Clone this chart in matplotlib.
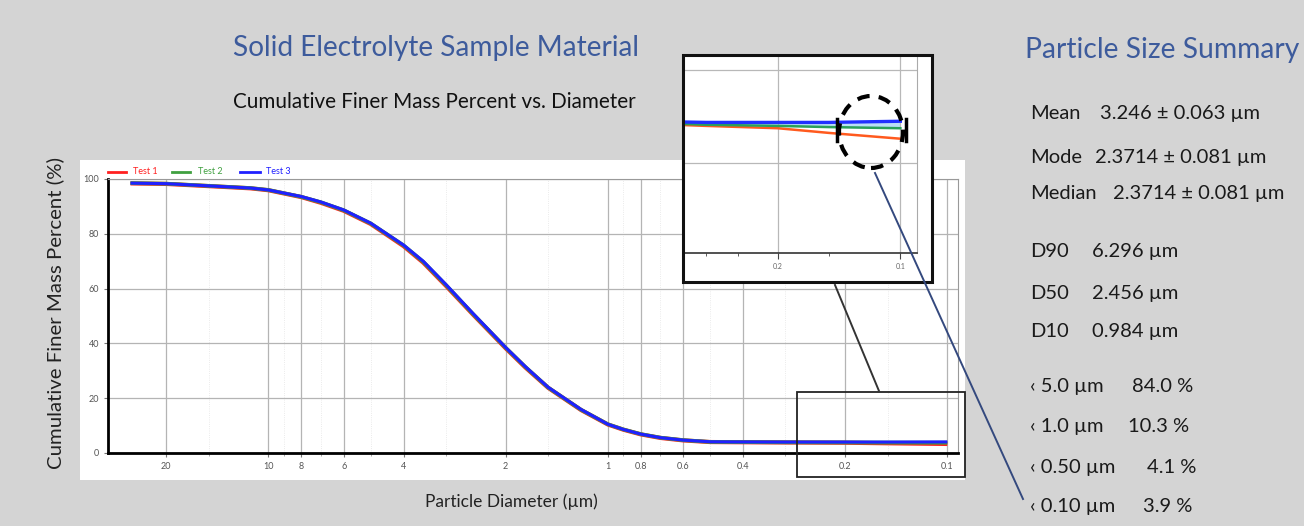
import matplotlib
matplotlib.use("Agg")
import matplotlib.pyplot as plt
from matplotlib.patches import Rectangle, Ellipse
from matplotlib.lines import Line2D
from matplotlib.ticker import FixedLocator, FixedFormatter, NullFormatter

# ---------------- data ----------------
diameter = [25.5, 20, 15, 13, 11.3, 10, 8, 7, 6, 5, 4, 3.5, 3, 2.5, 2, 1.75, 1.5, 1.3, 1.2,
            1.0, 0.9, 0.8, 0.7, 0.6, 0.5, 0.43, 0.3, 0.2, 0.15, 0.1]
test3 = [98.5, 98.3, 97.5, 97.1, 96.7, 96.0, 93.6, 91.6, 88.7, 83.9, 75.9, 70.0, 61.5, 51.0, 38.5,
         31.5, 24.0, 18.8, 15.9, 10.5, 8.6, 6.9, 5.6, 4.7, 4.1, 4.05, 4.0, 4.0, 4.0, 4.05]
test2 = [98.5, 98.3, 97.5, 97.1, 96.7, 96.0, 93.5, 91.5, 88.6, 83.8, 75.8, 69.8, 61.3, 50.8, 38.4,
         31.4, 23.9, 18.7, 15.8, 10.5, 8.6, 6.9, 5.6, 4.7, 4.05, 4.0, 3.9, 3.85, 3.8, 3.75]
test1 = [98.4, 98.2, 97.4, 97.0, 96.6, 95.9, 93.4, 91.3, 88.4, 83.6, 75.5, 69.5, 61.0, 50.6, 38.2,
         31.2, 23.8, 18.6, 15.7, 10.4, 8.5, 6.8, 5.5, 4.6, 4.0, 3.95, 3.85, 3.75, 3.55, 3.3]
series_names = ["Test 1", "Test 2", "Test 3"]
series_colors = ["#ff2020", "#40a040", "#2020ff"]

x_ticks = [20, 10, 8, 6, 4, 2, 1, 0.8, 0.6, 0.4, 0.2, 0.1]
x_tick_labels = ["20", "10", "8", "6", "4", "2", "1", "0.8", "0.6", "0.4", "0.2", "0.1"]
x_minor = [30, 15, 9, 7, 5, 3, 1.5, 0.9, 0.7, 0.5, 0.3, 0.15]
y_ticks = [0, 20, 40, 60, 80, 100]

inset_ticks = [0.2, 0.1]
inset_tick_labels = ["0.2", "0.1"]

title = "Solid Electrolyte Sample Material"
subtitle = "Cumulative Finer Mass Percent vs. Diameter"
summary_title = "Particle Size Summary"
summary_labels = ["Mean", "Mode", "Median", "D90", "D50", "D10",
                  "‹ 5.0 µm", "‹ 1.0 µm", "‹ 0.50 µm", "‹ 0.10 µm"]
summary_values = ["3.246 ± 0.063 µm", "2.3714 ± 0.081 µm", "2.3714 ± 0.081 µm",
                  "6.296 µm", "2.456 µm", "0.984 µm",
                  "84.0 %", "10.3 %", "4.1 %", "3.9 %"]
summary_y = [112, 156, 192, 250, 292, 330, 385, 425, 466, 505]
summary_value_x = [1100, 1095, 1113, 1092, 1092, 1092, 1132, 1128, 1147, 1143]

# ---------------- figure ----------------
W, H = 1304, 526
BG = "#d4d4d4"
BLUE_TXT = "#3d5b9c"
plt.rcParams["font.family"] = ["Lato", "DejaVu Sans"]

fig = plt.figure(figsize=(W / 100, H / 100), dpi=100, facecolor=BG)


def fx(x):
    return x / W


def fy(y):
    return 1 - y / H


def ax_rect(l, t, r, b):
    return [fx(l), fy(b), (r - l) / W, (b - t) / H]


# white panel behind main chart
fig.add_artist(Rectangle((fx(80), fy(480)), 885 / W, 320 / H, transform=fig.transFigure,
                         facecolor="white", edgecolor="none", zorder=-10))

ax = fig.add_axes(ax_rect(108, 179, 958, 453))
ax.set_facecolor("none")
for vals, c, lw in zip([test1, test2, test3], series_colors, [3.0, 2.7, 2.2]):
    ax.plot(diameter, vals, color=c, lw=lw, solid_capstyle="butt", solid_joinstyle="round")
ax.set_xscale("log")
ax.set_xlim(29.7, 0.093)
ax.set_ylim(0, 100)
ax.xaxis.set_major_locator(FixedLocator(x_ticks))
ax.xaxis.set_major_formatter(FixedFormatter(x_tick_labels))
ax.xaxis.set_minor_locator(FixedLocator(x_minor))
ax.xaxis.set_minor_formatter(NullFormatter())
ax.set_yticks(y_ticks)
ax.tick_params(axis="both", which="major", labelsize=6.5, labelcolor="#555555", length=3, color="#777777")
ax.tick_params(axis="x", which="minor", length=2, color="#999999")
ax.grid(True, which="major", color="#b4b4b4", lw=0.9)
ax.grid(True, which="minor", axis="x", color="#e4e4e4", lw=0.6, ls=":")
ax.spines["left"].set_color("black")
ax.spines["left"].set_linewidth(2)
ax.spines["bottom"].set_color("black")
ax.spines["bottom"].set_linewidth(2)
ax.spines["top"].set_color("#999999")
ax.spines["top"].set_linewidth(0.8)
ax.spines["right"].set_color("#999999")
ax.spines["right"].set_linewidth(0.8)

# legend (custom small, above the plot)
leg_x = [(108, 126, 133), (172, 190, 198), (240, 260, 266)]
for (x0, x1, xt), name, c in zip(leg_x, series_names, series_colors):
    fig.add_artist(Line2D([fx(x0), fx(x1)], [fy(172), fy(172)], transform=fig.transFigure,
                          color=c, lw=2, zorder=3))
    fig.text(fx(xt), fy(172), name, color=c, fontsize=6.5, va="center", ha="left")

# axis labels
fig.text(fx(55), fy(313), "Cumulative Finer Mass Percent (%)", rotation=90, fontsize=14.7,
         ha="center", va="center", color="#222222")
fig.text(fx(511), fy(502), "Particle Diameter (µm)", fontsize=12.5, ha="center", va="center",
         color="#222222")

# titles
fig.text(fx(233), fy(48), title, fontsize=20.2, color=BLUE_TXT, ha="left", va="center")
fig.text(fx(233), fy(102), subtitle, fontsize=14.9, color="#111111", ha="left", va="center")
fig.text(fx(1025), fy(50), summary_title, fontsize=20.3, color=BLUE_TXT, ha="left", va="center")
for lab, val, y, xv in zip(summary_labels, summary_values, summary_y, summary_value_x):
    fig.text(fx(1030), fy(y + 7), lab, fontsize=14.5, color="#1a1a1a", ha="left", va="baseline")
    fig.text(fx(xv), fy(y + 7), val, fontsize=14.5, color="#1a1a1a", ha="left", va="baseline")

# zoom rectangle on main plot
fig.add_artist(Rectangle((fx(797), fy(477)), 168 / W, 85 / H, transform=fig.transFigure,
                         facecolor="none", edgecolor="#222222", lw=1.3, zorder=2))

# inset box
fig.add_artist(Rectangle((fx(683), fy(282)), 249 / W, 227 / H, transform=fig.transFigure,
                         facecolor="white", edgecolor="none", zorder=4))
axi = fig.add_axes(ax_rect(684, 57, 917, 253), zorder=5)
axi.set_facecolor("white")
axi.fill_between(diameter, test2, test3, color="#8fc8f0", alpha=0.6, lw=0)
for vals, c, lw in zip([test1, test2, test3], ["#ff5a1e", "#2aa05a", "#2030ff"], [1.8, 1.8, 2.4]):
    axi.plot(diameter, vals, color=c, lw=lw)
axi.set_xscale("log")
axi.set_xlim(0.34, 0.091)
axi.set_ylim(-1.61, 6.81)
axi.xaxis.set_major_locator(FixedLocator(inset_ticks))
axi.xaxis.set_major_formatter(FixedFormatter(inset_tick_labels))
axi.xaxis.set_minor_locator(FixedLocator([0.3, 0.25, 0.15]))
axi.xaxis.set_minor_formatter(NullFormatter())
axi.set_yticks([2.25, 6.25])
axi.set_yticklabels([])
axi.tick_params(axis="y", length=0)
axi.tick_params(axis="x", which="major", labelsize=5, labelcolor="#666666", length=4, color="#444444")
axi.tick_params(axis="x", which="minor", length=2.5, color="#444444")
axi.grid(True, which="major", color="#b8b8b8", lw=0.9)
axi.spines["left"].set_visible(False)
axi.spines["top"].set_visible(False)
axi.spines["right"].set_color("#aaaaaa")
axi.spines["bottom"].set_color("#333333")
axi.spines["bottom"].set_linewidth(1.2)

# inset border (drawn above inset axes)
fig.add_artist(Rectangle((fx(683), fy(282)), 249 / W, 227 / H, transform=fig.transFigure,
                         facecolor="none", edgecolor="#111111", lw=2.2, zorder=6))

# error-bar ticks and dashed circle
for xb in (837, 906):
    fig.add_artist(Line2D([fx(xb), fx(xb)], [fy(119), fy(141)], transform=fig.transFigure,
                          color="black", lw=2.5, zorder=7))
fig.add_artist(Ellipse((fx(871), fy(132)), 64 / W, 72 / H, transform=fig.transFigure,
                       facecolor="none", edgecolor="black", lw=3, ls=(0, (3, 2.2)), zorder=7))

# connector lines
fig.add_artist(Line2D([fx(875), fx(1023)], [fy(173), fy(499)], transform=fig.transFigure,
                      color="#34497e", lw=1.4, zorder=8))
fig.add_artist(Line2D([fx(835), fx(879)], [fy(285), fy(391)], transform=fig.transFigure,
                      color="#333333", lw=1.4, zorder=8))

fig.savefig("out.png", dpi=100, facecolor=BG)
